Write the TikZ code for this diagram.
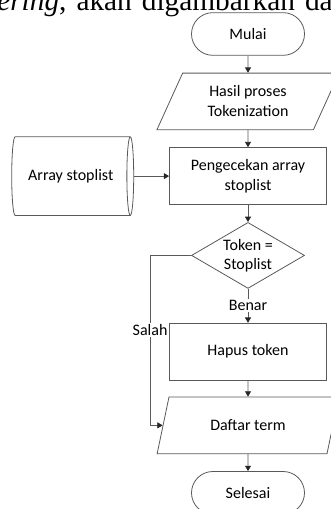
\documentclass[tikz,border=0pt]{standalone}
\usepackage{fontspec}
\setmainfont{Carlito}
\newfontfamily\capfont{Liberation Serif}
\usepackage{tikz}
\usetikzlibrary{positioning}
\usetikzlibrary{shapes.geometric}
\usetikzlibrary{shapes.misc}
\usetikzlibrary{arrows.meta}

\begin{document}
\begin{tikzpicture}[
    x = .75pt,
    y = -.75pt,
    font = \fontsize{12}{15}\selectfont,
    >={Triangle[width=4.5pt,length=4pt,color=black!85]},
    node distance = 12.75pt,
    terminal/.style = {
      rounded rectangle,
      draw=black!65,
      semithick,
      minimum width=84.75pt,
      minimum height=32pt,
      inner sep=0pt
    },
    iobox/.style = {
      trapezium,
      trapezium left angle=63,
      trapezium right angle=117,
      trapezium stretches=true,
      draw=black!65,
      semithick,
      minimum width=137pt,
      minimum height=42.5pt,
      inner sep=0pt,
      align=center
    },
    procbox/.style = {
      rectangle,
      draw=black!65,
      semithick,
      minimum width=117.75pt,
      minimum height=42.75pt,
      inner sep=0pt,
      align=center
    },
    storebox/.style = {
      cylinder,
      shape aspect=.5,
      draw=black!65,
      semithick,
      minimum width=59pt,
      minimum height=91.5pt,
      inner sep=0pt
    },
    decbox/.style = {
      diamond,
      aspect=1.7,
      draw=black!65,
      semithick,
      minimum width=84.75pt,
      minimum height=49.5pt,
      inner sep=0pt,
      align=center,
      font=\fontsize{12}{14}\selectfont
    },
    line/.style = {
      draw=black!65,
      semithick,
      ->
    },
    lbl/.style = {
      fill=white,
      inner sep=1pt
    }
  ]
    \path[use as bounding box, clip] (0,0) rectangle (331,509);

    % cut-off sentence from the page above
    \node[font=\capfont\fontsize{22}{25}\selectfont, anchor=base east, inner sep=0pt]
      (kalimat) at (333,11) {\spaceskip=7.5pt\textit{ering}, akan digambarkan da};

    \node[terminal] (mulai) at (248,34) {Mulai};
    \node[iobox] (hasil) [below=of mulai] {Hasil proses\\Tokenization};
    \node[procbox] (cek) [below=of hasil] {Pengecekan array\\stoplist};
    \node[storebox] (array) [left=26.25pt of cek] {Array stoplist};
    \node[decbox] (token) [below=of cek] {Token =\\Stoplist};
    \node[procbox] (hapus) [below=25.5pt of token] {Hapus token};
    \node[iobox] (daftar) [below=12pt of hapus] {Daftar term};
    \node[terminal] (selesai) [below=of daftar] {Selesai};

    \draw[line] (mulai) -- (hasil);
    \draw[line] (hasil) -- (cek);
    \draw[line] (array) -- (cek);
    \draw[line] (cek) -- (token);
    \draw[line] (token) -- node[lbl] {Benar} (hapus);
    \draw[line] (hapus) -- (daftar);
    \draw[line] (daftar) -- (selesai);

    \draw[line] (token.west) -- ++(-41,0) |- node[lbl, pos=.22] {Salah} (daftar.west);

  \end{tikzpicture}
\end{document}
